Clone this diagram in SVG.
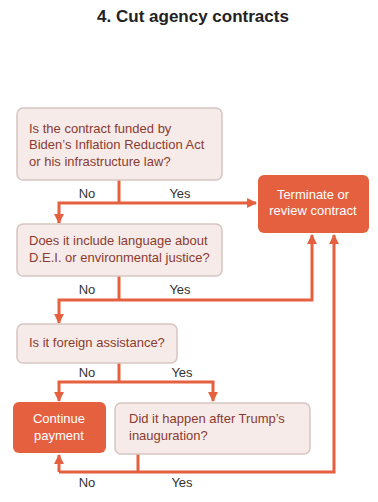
<svg xmlns="http://www.w3.org/2000/svg" width="378" height="502" viewBox="0 0 378 502">
<style>
.title{font-family:"Liberation Sans",Arial,sans-serif;font-weight:bold;font-size:17px;fill:#222;}
.q rect{fill:#f6ebe8;stroke:#d6c6c2;stroke-width:1.5;}
.q text{font-family:"Liberation Sans",Arial,sans-serif;font-size:13px;fill:#8a3b30;}
.a rect{fill:#e5603f;stroke:none;}
.a text{font-family:"Liberation Sans",Arial,sans-serif;font-size:13px;fill:#fff;text-anchor:middle;}
.lbl{font-family:"Liberation Sans",Arial,sans-serif;font-size:13px;fill:#333;text-anchor:middle;}
.c{fill:none;stroke:#e5603f;stroke-width:3;}
</style>
<defs>
<marker id="ah" viewBox="0 0 10 10" refX="9" refY="5" markerWidth="3.3" markerHeight="3.3" orient="auto" markerUnits="strokeWidth">
<path d="M0,0 L10,5 L0,10 Z" fill="#e5603f"/>
</marker>
</defs>
<text class="title" x="193" y="22" text-anchor="middle">4. Cut agency contracts</text>

<g id="connectors">
<path class="c" d="M119,180 V203"/>
<path class="c" d="M59,223 V203 H256" marker-end="url(#ah)"/>
<path class="c" d="M119,276 V300"/>
<path class="c" d="M59,322 V300 H312 V235" marker-end="url(#ah)"/>
<path class="c" d="M119,363 V382"/>
<path class="c" d="M59,400 V382 H213 V401" marker-end="url(#ah)"/>
<path class="c" d="M59,400 V401" marker-end="url(#ah)"/>
<path class="c" d="M59,222 V223" marker-end="url(#ah)"/>
<path class="c" d="M59,322 V323" marker-end="url(#ah)"/>
<path class="c" d="M138,454 V472"/>
<path class="c" d="M59,472 V455" marker-end="url(#ah)"/>
<path class="c" d="M59,472 H334 V235" marker-end="url(#ah)"/>
<text class="lbl" x="87" y="198">No</text>
<text class="lbl" x="180" y="198">Yes</text>
<text class="lbl" x="87" y="294">No</text>
<text class="lbl" x="180" y="294">Yes</text>
<text class="lbl" x="87" y="377">No</text>
<text class="lbl" x="182" y="377">Yes</text>
<text class="lbl" x="87" y="487">No</text>
<text class="lbl" x="182" y="487">Yes</text>
</g>

<g id="q1" class="q">
<rect x="17" y="108" width="205" height="72" rx="6"/>
<text x="29" y="133">Is the contract funded by</text>
<text x="29" y="149">Biden’s Inflation Reduction Act</text>
<text x="29" y="166">or his infrastructure law?</text>
</g>
<g id="terminate" class="a">
<rect x="258" y="175" width="111" height="58" rx="6"/>
<text x="313" y="199">Terminate or</text>
<text x="313" y="215">review contract</text>
</g>
<g id="q2" class="q">
<rect x="17" y="224" width="205" height="52" rx="6"/>
<text x="29" y="245">Does it include language about</text>
<text x="29" y="262">D.E.I. or environmental justice?</text>
</g>
<g id="q3" class="q">
<rect x="17" y="324" width="160" height="39" rx="6"/>
<text x="29" y="347">Is it foreign assistance?</text>
</g>
<g id="continue" class="a">
<rect x="13" y="402" width="93" height="51" rx="6"/>
<text x="59" y="423">Continue</text>
<text x="59" y="440">payment</text>
</g>
<g id="q4" class="q">
<rect x="115" y="403" width="195" height="51" rx="6"/>
<text x="129" y="423">Did it happen after Trump’s</text>
<text x="129" y="440">inauguration?</text>
</g>
</svg>
